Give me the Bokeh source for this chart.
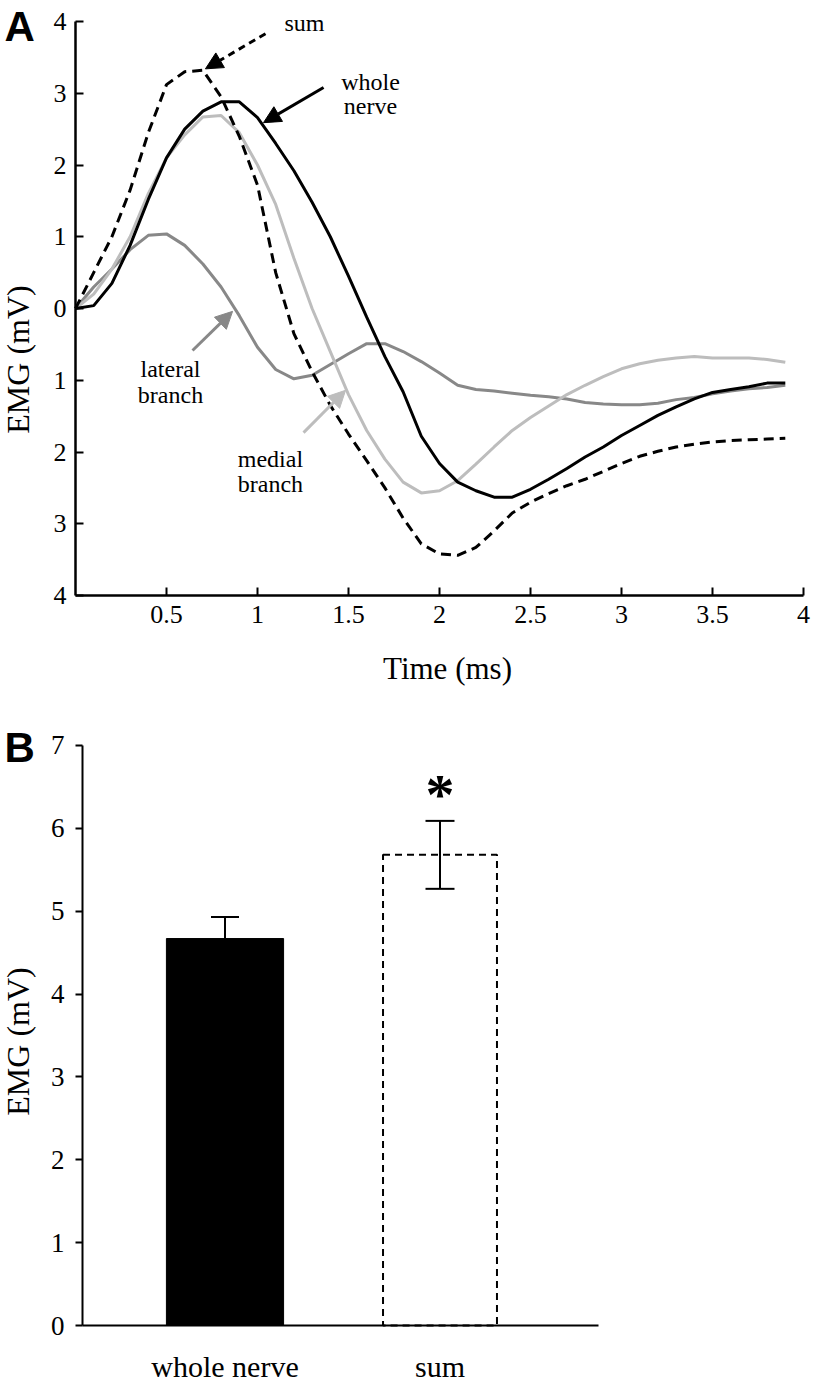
import math
from bokeh.plotting import figure
from bokeh.layouts import column
from bokeh.models import (Range1d, FixedTicker, Label, Arrow, NormalHead,
                          Whisker, TeeHead, ColumnDataSource)
from bokeh.embed import file_html
from bokeh.resources import INLINE

# ---------------- data (panel A) ----------------
time_ms = [round(0.1 * i, 1) for i in range(40)]
whole_nerve = [0.0, 0.04, 0.35, 0.88, 1.52, 2.1, 2.5, 2.75, 2.88, 2.88,
               2.66, 2.3, 1.92, 1.48, 1.0, 0.45, -0.12, -0.67, -1.16, -1.78,
               -2.16, -2.42, -2.54, -2.63, -2.63, -2.52, -2.38, -2.23, -2.07, -1.93,
               -1.77, -1.63, -1.49, -1.37, -1.26, -1.17, -1.13, -1.09, -1.04, -1.04]
sum_trace = [0.0, 0.5, 1.0, 1.65, 2.45, 3.12, 3.3, 3.32, 2.95, 2.4,
             1.72, 0.5, -0.35, -0.88, -1.35, -1.75, -2.12, -2.5, -2.92, -3.28,
             -3.42, -3.44, -3.33, -3.1, -2.85, -2.7, -2.58, -2.47, -2.38, -2.27,
             -2.16, -2.06, -1.99, -1.93, -1.89, -1.86, -1.84, -1.83, -1.82, -1.81]
medial_branch = [0.0, 0.2, 0.55, 1.0, 1.6, 2.1, 2.42, 2.67, 2.69, 2.45,
                 2.0, 1.45, 0.7, 0.0, -0.6, -1.2, -1.7, -2.1, -2.42, -2.57,
                 -2.54, -2.4, -2.17, -1.93, -1.7, -1.52, -1.36, -1.2, -1.07, -0.95,
                 -0.84, -0.77, -0.72, -0.69, -0.67, -0.69, -0.69, -0.69, -0.71, -0.75]
lateral_branch = [0.0, 0.3, 0.55, 0.82, 1.02, 1.04, 0.88, 0.62, 0.3, -0.1,
                  -0.54, -0.85, -0.98, -0.93, -0.78, -0.63, -0.49, -0.49, -0.6, -0.74,
                  -0.9, -1.07, -1.13, -1.15, -1.18, -1.21, -1.23, -1.26, -1.31, -1.33,
                  -1.34, -1.34, -1.32, -1.27, -1.24, -1.19, -1.15, -1.12, -1.10, -1.07]
a_xticks = [0.5, 1, 1.5, 2, 2.5, 3, 3.5, 4]
a_yticks = [-4, -3, -2, -1, 0, 1, 2, 3, 4]

# annotation texts (data units): text lines, x, baselines
ann_texts = [
    (["sum"], 1.258, [3.98]),
    (["whole", "nerve"], 1.621, [3.15, 2.82]),
    (["lateral", "branch"], 0.522, [-0.845, -1.207]),
    (["medial", "branch"], 1.071, [-2.10, -2.45]),
]
# arrows: x_start, y_start, x_end, y_end, colour, dash
ann_arrows = [
    (1.044, 3.83, 0.714, 3.34, "black", "7 5"),
    (1.363, 3.08, 1.033, 2.59, "black", "solid"),
    (0.643, -0.585, 0.863, -0.04, "#888888", "solid"),
    (1.253, -1.73, 1.484, -1.14, "#bdbdbd", "solid"),
]

# ---------------- data (panel B) ----------------
bar_categories = ["whole nerve", "sum"]
bar_values = [4.67, 5.68]
bar_errors = [0.26, 0.41]
b_yticks = [0, 1, 2, 3, 4, 5, 6, 7]

SERIF = "Liberation Serif"
SANS = "Liberation Sans"
W = 813

# ---------------- panel A ----------------
HA = 688
ax0_px, ax_scale = 75.0, 182.0     # t = 0 at this x, px per ms
ay0_px, ay_scale = 308.0, 71.75    # v = 0 at this y, px per mV
a_xr = Range1d(-ax0_px / ax_scale, (W - ax0_px) / ax_scale)
a_yr = Range1d(-(HA - ay0_px) / ay_scale, ay0_px / ay_scale)

pa = figure(width=W, height=HA, output_backend="svg", toolbar_location=None,
            x_range=a_xr, y_range=a_yr, min_border=0)
pa.grid.visible = False
pa.outline_line_color = None
pa.background_fill_color = "white"

pa.line(time_ms, lateral_branch, line_color="#888888", line_width=3)
pa.line(time_ms, medial_branch, line_color="#bdbdbd", line_width=3)
pa.line(time_ms, whole_nerve, line_color="black", line_width=3)
pa.line(time_ms, sum_trace, line_color="black", line_width=3, line_dash="10 6")

for ax in (pa.xaxis, pa.yaxis):
    ax.axis_line_width = 2.5
    ax.axis_line_color = "black"
    ax.major_tick_in = 8
    ax.major_tick_out = 0
    ax.major_tick_line_width = 2
    ax.minor_tick_line_color = None
    ax.major_label_text_font = SERIF
    ax.major_label_text_font_size = "26px"
    ax.major_label_text_color = "black"

pa.xaxis.fixed_location = a_yticks[0]
pa.xaxis.bounds = (0, a_xticks[-1])
pa.xaxis.ticker = FixedTicker(ticks=a_xticks)
pa.xaxis.major_label_overrides = {t: ("%g" % t) for t in a_xticks}
pa.xaxis.major_label_standoff = 10
pa.yaxis.fixed_location = 0
pa.yaxis.bounds = (a_yticks[0], a_yticks[-1])
pa.yaxis.ticker = FixedTicker(ticks=a_yticks)
pa.yaxis.major_label_overrides = {t: str(abs(t)) for t in a_yticks}
pa.yaxis.major_label_standoff = 9

def a_lbl(text, x, y, size, **kw):
    kw.setdefault("text_font", SERIF)
    kw.setdefault("text_align", "center")
    kw.setdefault("text_baseline", "alphabetic")
    pa.add_layout(Label(x=x, y=y, text=text, text_font_size=size, text_color="black", **kw))

a_lbl("Time (ms)", (447 - ax0_px) / ax_scale, (ay0_px - 668) / ay_scale, "31px",
      text_baseline="middle")
a_lbl("EMG (mV)", (17 - ax0_px) / ax_scale, (ay0_px - 359) / ay_scale, "32px",
      text_baseline="middle", angle=math.pi / 2)
a_lbl("A", (4 - ax0_px) / ax_scale, (ay0_px - 26) / ay_scale, "42px", text_font=SANS,
      text_font_style="bold", text_align="left")

for lines, x, ys in ann_texts:
    for t, y in zip(lines, ys):
        a_lbl(t, x, y, "24px")
for xs, ys, xe, ye, c, d in ann_arrows:
    pa.add_layout(Arrow(x_start=xs, y_start=ys, x_end=xe, y_end=ye,
                        line_color=c, line_width=3, line_dash=d,
                        end=NormalHead(size=17, fill_color=c, line_color=c, line_width=1)))

# ---------------- panel B ----------------
HB = 696
bx0_px, bx_scale = 224.5, 215.0          # x = 1 (first bar) at this x, px per unit
by0_px, by_scale = 1325.0 - HA, 82.86    # y = 0 at this y, px per mV
b_xr = Range1d(1 - bx0_px / bx_scale, 1 + (W - bx0_px) / bx_scale)
b_yr = Range1d(-(HB - by0_px) / by_scale, by0_px / by_scale)
b_axis_left = 1 - (bx0_px - 82) / bx_scale
b_axis_right = 1 + (598 - bx0_px) / bx_scale

pb = figure(width=W, height=HB, output_backend="svg", toolbar_location=None,
            x_range=b_xr, y_range=b_yr, min_border=0)
pb.grid.visible = False
pb.outline_line_color = None
pb.background_fill_color = "white"

bx = [i + 1 for i in range(len(bar_categories))]
pb.vbar(x=[bx[0]], top=[bar_values[0]], width=0.545, fill_color="black", line_color="black")
pb.vbar(x=[bx[1]], top=[bar_values[1]], width=0.53, fill_color="white", line_color="black",
        line_width=2, line_dash="7 5")

src_w = ColumnDataSource(dict(x=[bx[0]], lower=[bar_values[0]],
                              upper=[bar_values[0] + bar_errors[0]]))
pb.add_layout(Whisker(base="x", lower="lower", upper="upper", source=src_w, line_width=2,
                      level="annotation",
                      upper_head=TeeHead(size=28, line_width=2), lower_head=None))
src_s = ColumnDataSource(dict(x=[bx[1]], lower=[bar_values[1] - bar_errors[1]],
                              upper=[bar_values[1] + bar_errors[1]]))
pb.add_layout(Whisker(base="x", lower="lower", upper="upper", source=src_s, line_width=2,
                      level="annotation",
                      upper_head=TeeHead(size=29, line_width=2),
                      lower_head=TeeHead(size=29, line_width=2)))

for ax in (pb.xaxis, pb.yaxis):
    ax.axis_line_width = 2
    ax.axis_line_color = "black"
    ax.minor_tick_line_color = None
    ax.major_label_text_font = SERIF
    ax.major_label_text_color = "black"

pb.yaxis.fixed_location = b_axis_left
pb.yaxis.bounds = (b_yticks[0], b_yticks[-1])
pb.yaxis.ticker = FixedTicker(ticks=b_yticks)
pb.yaxis.major_tick_in = 0
pb.yaxis.major_tick_out = 7
pb.yaxis.major_tick_line_width = 2
pb.yaxis.major_label_text_font_size = "27px"
pb.yaxis.major_label_standoff = 11

pb.xaxis.fixed_location = 0
pb.xaxis.bounds = (b_axis_left, b_axis_right)
pb.xaxis.ticker = FixedTicker(ticks=bx)
pb.xaxis.major_label_overrides = {x: c for x, c in zip(bx, bar_categories)}
pb.xaxis.major_tick_line_color = None
pb.xaxis.major_tick_in = 0
pb.xaxis.major_tick_out = 0
pb.xaxis.major_label_text_font_size = "30px"
pb.xaxis.major_label_standoff = 24

def b_lbl(text, x, y, size, **kw):
    kw.setdefault("text_font", SERIF)
    kw.setdefault("text_align", "center")
    kw.setdefault("text_baseline", "alphabetic")
    pb.add_layout(Label(x=x, y=y, text=text, text_font_size=size, text_color="black", **kw))

b_lbl("EMG (mV)", 1 - (bx0_px - 17) / bx_scale, (by0_px - (1041 - HA)) / by_scale, "32px",
      text_baseline="middle", angle=math.pi / 2)
b_lbl("B", 1 - (bx0_px - 4) / bx_scale, (by0_px - (747 - HA)) / by_scale, "42px",
      text_font=SANS, text_font_style="bold", text_align="left")
b_lbl("*", bx[1], 6.41, "58px", text_font_style="bold", text_baseline="middle")

layout = column(pa, pb, spacing=0)
open("out.html", "w").write(file_html(layout, INLINE))
